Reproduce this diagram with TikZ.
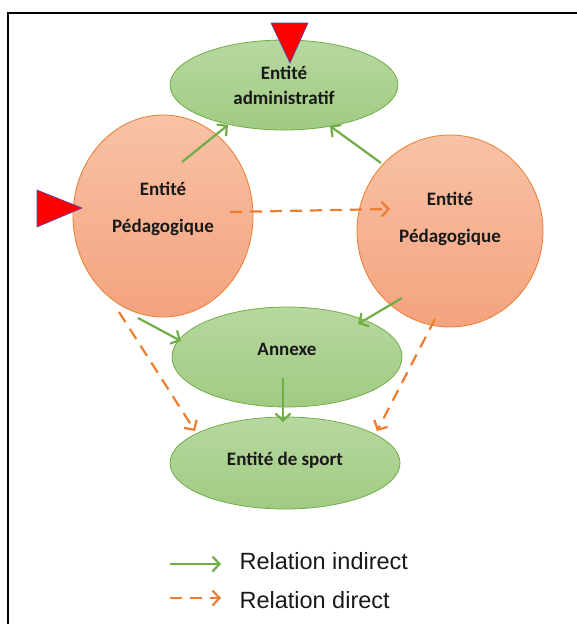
\documentclass[tikz,border=0pt]{standalone}
\usepackage{fontspec}
\setmainfont{Liberation Sans}
\newfontfamily\boxfont{Carlito}
\usetikzlibrary{shapes.geometric}
\usetikzlibrary{arrows.meta}

\definecolor{grn}{RGB}{112,173,71}
\definecolor{grnTop}{RGB}{183,216,160}
\definecolor{grnBot}{RGB}{160,203,130}
\definecolor{org}{RGB}{237,125,49}
\definecolor{orgTop}{RGB}{248,194,166}
\definecolor{orgBot}{RGB}{244,163,126}
\definecolor{marker}{RGB}{255,0,0}

\tikzset{
  greenblob/.style={ellipse, draw=grn, line width=0.8pt, top color=grnTop, bottom color=grnBot, inner sep=0pt},
  orangeblob/.style={ellipse, draw=org, line width=0.8pt, top color=orgTop, bottom color=orgBot, inner sep=0pt},
  lbl/.style={font=\boxfont\bfseries\fontsize{19}{23}\selectfont, align=center, text=black!90},
  legendtext/.style={font=\fontsize{23.5}{28}\selectfont, anchor=west, text=black!90},
  indirect/.style={draw=grn, line width=2.2pt, -{Straight Barb[length=7pt,width=15pt]}},
  direct/.style={draw=org, line width=2.2pt, dash pattern=on 12pt off 8pt, -{Straight Barb[length=7pt,width=15pt]}},
  pointer/.style={fill=marker, draw=blue!45!gray, line width=0.6pt},
}

\begin{document}
\begin{tikzpicture}[x=1pt, y=-1pt]

\useasboundingbox (0,0) rectangle (577,624);

% Frame
\draw[line width=1.6pt] (8,624) -- (8,13) -- (577,13);

%---------------------------------------
% Entities
%---------------------------------------
\node[greenblob, minimum width=228pt, minimum height=90pt] (admin) at (284,85) {};
\node[orangeblob, minimum width=180pt, minimum height=202pt] (pedL) at (163,216) {};
\node[orangeblob, minimum width=186pt, minimum height=192pt] (pedR) at (450,231) {};
\node[greenblob, minimum width=230pt, minimum height=100pt] (annexe) at (287,357) {};
\node[greenblob, minimum width=230pt, minimum height=92pt] (sport) at (285,463) {};

\node[lbl] (adminTxt) at (284,85) {Entité\\[2pt]administratif};
\node[lbl] (pedLTxt) at (163,209) {Entité\\[14pt]Pédagogique};
\node[lbl] (pedRTxt) at (450,219) {Entité\\[14pt]Pédagogique};
\node[lbl] (annexeTxt) at (287,349) {Annexe};
\node[lbl] (sportTxt) at (285,460) {Entité de sport};

%---------------------------------------
% Relations
%---------------------------------------
\draw[indirect] ([shift={(19,-54)}]pedL.center) -- ([shift={(-56,40)}]admin.center);
\draw[indirect] ([shift={(-69,-68)}]pedR.center) -- ([shift={(46,41)}]admin.center);
\draw[direct] ([shift={(67,-4)}]pedL.center) -- ([shift={(-60,-22)}]pedR.center);
\draw[indirect] ([shift={(-25,102)}]pedL.center) -- ([shift={(-106,-16)}]annexe.center);
\draw[indirect] ([shift={(-48,67)}]pedR.center) -- ([shift={(71,-33)}]annexe.center);
\draw[indirect] ([shift={(-4,21)}]annexe.center) -- ([shift={(-2,-41)}]sport.center);
\draw[direct] ([shift={(-44,96)}]pedL.center) -- ([shift={(-90,-32)}]sport.center);
\draw[direct] ([shift={(-15,88)}]pedR.center) -- ([shift={(92,-32)}]sport.center);

% Markers
\draw[pointer] (271,23) -- (308,23) -- (290,63) -- cycle;
\draw[pointer] (37,190) -- (37,227) -- (82,208) -- cycle;

%---------------------------------------
% Legend
%---------------------------------------
\coordinate (leg1a) at (170,564);
\coordinate (leg1b) at (221,564);
\coordinate (leg2a) at (170,598);
\coordinate (leg2b) at (221,598);
\draw[indirect] (leg1a) -- (leg1b);
\draw[direct] (leg2a) -- (leg2b);
\node[legendtext] (legIndirect) at (236,561) {Relation indirect};
\node[legendtext] (legDirect) at (236,600) {Relation direct};

\end{tikzpicture}
\end{document}
